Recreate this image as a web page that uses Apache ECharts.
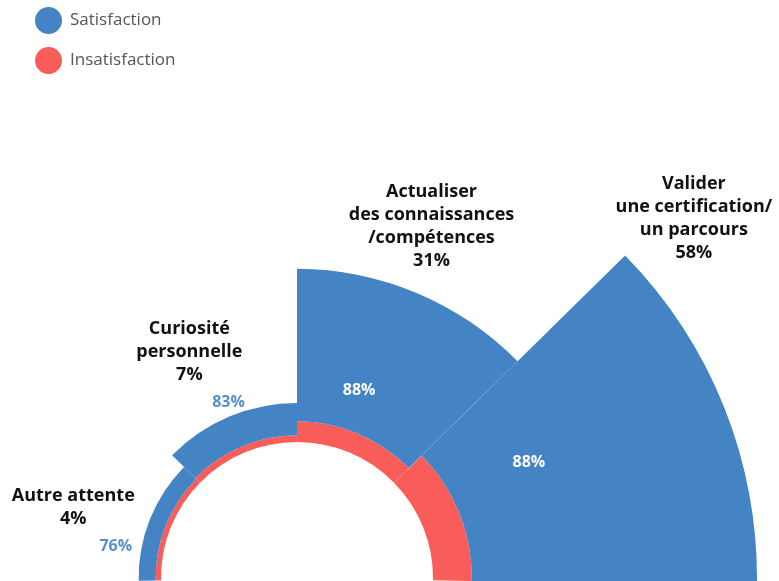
<!DOCTYPE html>
<html>
<head>
<meta charset="utf-8">
<script src="https://cdn.jsdelivr.net/npm/echarts@6/dist/echarts.min.js"></script>
<style>
  html, body { margin: 0; padding: 0; background: #fff; }
  #chart { width: 779px; height: 581px; }
</style>
</head>
<body>
<div id="chart"></div>
<script>
// attentes des stagiaires : part des répondants + taux de satisfaction
var categories = ['Autre attente', 'Curiosité personnelle', 'Actualiser des connaissances/compétences', 'Valider une certification/un parcours'];
var categoryLabels = ['Autre attente\n4%', 'Curiosité\npersonnelle\n7%', 'Actualiser\ndes connaissances\n/compétences\n31%', 'Valider\nune certification/\nun parcours\n58%'];
var share = [4, 7, 31, 58];          // % des répondants
var satisfaction = [76, 83, 88, 88]; // % satisfaits

// réglages des étiquettes (décalages depuis la position calculée par echarts)
var nameOffsets = [[-72, 13], [-38, -26], [13, -16], [-35, -141]];
var pctOffsets = [[-42, 24], [-7, -29], [-28, 27], [-63, 2]];
var pctColors = ['#5a8ecb', '#5a8ecb', '#ffffff', '#ffffff'];

var BLUE = '#4483c4';
var RED = '#f95d5a';

var satPart = [], insatPart = [], shareItems = [];
for (var i = 0; i < share.length; i++) {
    var s = share[i] * satisfaction[i] / 100;
    satPart.push({
        value: s,
        label: { offset: pctOffsets[i], color: pctColors[i] }
    });
    insatPart.push(share[i] - s);
    shareItems.push({
        value: share[i],
        label: { offset: nameOffsets[i] }
    });
}

var myChart = echarts.init(document.getElementById('chart'));
var option = {
    animation: false,
    textStyle: { fontFamily: 'Open Sans, sans-serif' },
    legend: {
        orient: 'vertical',
        left: 30,
        top: 2,
        itemWidth: 27,
        itemHeight: 27,
        itemGap: 13,
        icon: 'circle',
        data: ['Satisfaction', 'Insatisfaction'],
        textStyle: { color: '#555', fontSize: 17, padding: [0, 0, 0, 3] }
    },
    polar: {
        center: [297, 578],
        radius: [136, 460]
    },
    angleAxis: {
        type: 'category',
        data: categories,
        startAngle: 181,
        endAngle: -1,
        show: false
    },
    radiusAxis: {
        type: 'value',
        min: 0,
        max: 58,
        show: false
    },
    series: [
        {
            name: 'Insatisfaction',
            type: 'bar',
            coordinateSystem: 'polar',
            stack: 'total',
            barCategoryGap: '0%',
            barGap: '-100%',
            itemStyle: { color: RED },
            data: insatPart
        },
        {
            name: 'Satisfaction',
            type: 'bar',
            coordinateSystem: 'polar',
            stack: 'total',
            barCategoryGap: '0%',
            barGap: '-100%',
            itemStyle: { color: BLUE },
            label: {
                show: true,
                position: 'middle',
                rotate: 0,
                fontSize: 16,
                fontWeight: 'bold',
                formatter: function (p) { return satisfaction[p.dataIndex] + '%'; }
            },
            data: satPart
        },
        {
            name: 'part',
            type: 'bar',
            coordinateSystem: 'polar',
            barCategoryGap: '0%',
            barGap: '-100%',
            silent: true,
            itemStyle: { color: 'rgba(0,0,0,0)' },
            label: {
                show: true,
                position: 'end',
                rotate: 0,
                distance: 5,
                color: '#111',
                fontSize: 18,
                fontWeight: 'bold',
                lineHeight: 23,
                align: 'center',
                formatter: function (p) { return categoryLabels[p.dataIndex]; }
            },
            data: shareItems
        }
    ]
};
myChart.setOption(option);
</script>
</body>
</html>
